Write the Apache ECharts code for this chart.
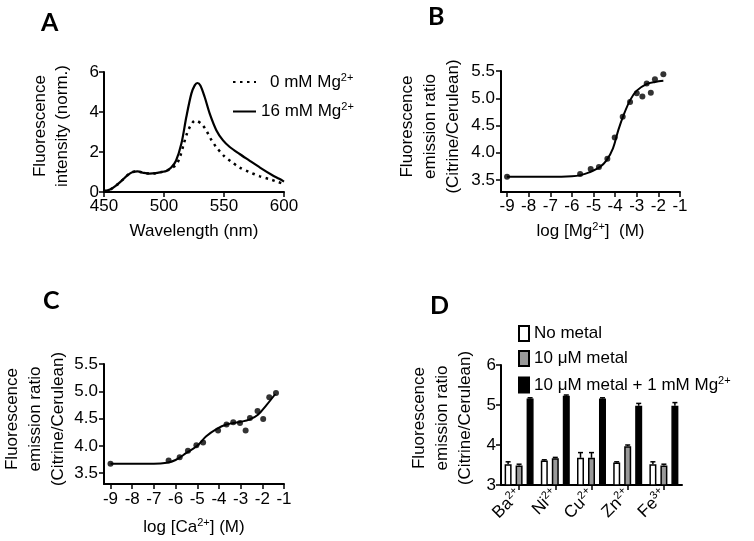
<!DOCTYPE html>
<html>
<head>
<meta charset="utf-8">
<script src="https://cdn.jsdelivr.net/npm/echarts@6/dist/echarts.min.js"></script>
<style>
  html, body { margin: 0; padding: 0; background: #fff; }
  #chart { width: 754px; height: 541px; }
</style>
</head>
<body>
<div id="chart"></div>
<script>
// A: emission spectra, [wavelength (nm), intensity (norm.)]
const spectrumNoMg = [
  [450, 0.03], [455, 0.12], [460, 0.32], [465, 0.58], [470, 0.86], [474, 1.0], [478, 1.03],
  [483, 0.96], [488, 0.92], [493, 0.94], [498, 1.0], [502, 1.05], [506, 1.2], [510, 1.35],
  [513, 1.7], [516, 2.3], [519, 2.9], [522, 3.3], [526, 3.58], [531, 3.42], [535, 3.1],
  [539.5, 2.6], [543.5, 2.25], [550, 1.8], [556, 1.52], [563, 1.22], [571, 1.0], [580, 0.78],
  [588, 0.64], [595, 0.5], [600, 0.4]
];
const spectrumMg = [
  [450, 0.03], [455, 0.12], [460, 0.32], [465, 0.58], [470, 0.86], [474, 1.0], [478, 1.03],
  [483, 0.96], [488, 0.92], [493, 0.94], [498, 1.0], [502, 1.05], [506, 1.22], [510, 1.56],
  [514.5, 2.42], [518.6, 3.75], [522.8, 4.92], [525.6, 5.33], [527.8, 5.45], [530.3, 5.33],
  [533.9, 4.75], [538.1, 3.92], [543.7, 3.08], [549.2, 2.58], [554.8, 2.25], [563, 1.9],
  [571.5, 1.56], [580, 1.22], [590, 0.85], [596, 0.66], [600, 0.52]
];

// B: Mg2+ titration
const mgLog = [-9, -5.62, -5.13, -4.75, -4.36, -4.02, -3.65, -3.31, -3.0, -2.74, -2.54, -2.35, -2.16, -1.77];
const mgRatio = [3.56, 3.61, 3.70, 3.74, 3.89, 4.28, 4.66, 4.93, 5.09, 5.03, 5.27, 5.10, 5.35, 5.44];
const mgFitLog = [-9, -7, -6, -5.6, -5.2, -4.7, -4.4, -4.1, -3.85, -3.6, -3.3, -3.0, -2.55, -2.15, -1.77];
const mgFitRatio = [3.56, 3.56, 3.57, 3.59, 3.64, 3.74, 3.86, 4.08, 4.42, 4.70, 4.97, 5.14, 5.26, 5.30, 5.32];

// C: Ca2+ titration
const caLog = [-9, -6.32, -5.81, -5.43, -5.04, -4.73, -4.04, -3.65, -3.34, -3.03, -2.77, -2.57, -2.22, -1.96, -1.68, -1.37];
const caRatio = [3.67, 3.73, 3.79, 3.91, 4.01, 4.06, 4.28, 4.39, 4.43, 4.42, 4.28, 4.51, 4.64, 4.49, 4.89, 4.97];
const caFitLog = [-9, -7, -6.4, -6.0, -5.5, -5.0, -4.6, -4.1, -3.65, -3.0, -2.6, -2.2, -1.8, -1.4];
const caFitRatio = [3.67, 3.67, 3.69, 3.74, 3.87, 4.00, 4.17, 4.31, 4.39, 4.44, 4.48, 4.57, 4.75, 4.95];

// D: other metals
const metals = ['Ba', 'Ni', 'Cu', 'Zn', 'Fe'];
const metalCharge = ['2+', '2+', '2+', '2+', '3+'];
const noMetal = [3.52, 3.61, 3.68, 3.56, 3.52];
const noMetalErr = [0.06, 0.02, 0.13, 0.02, 0.06];
const withMetal = [3.49, 3.67, 3.68, 3.97, 3.49];
const withMetalErr = [0.03, 0.02, 0.13, 0.03, 0.03];
const withMetalMg = [5.16, 5.23, 5.16, 4.98, 4.98];
const withMetalMgErr = [0.02, 0.02, 0.02, 0.06, 0.08];

const FONT = 'Liberation Sans, Arial, sans-serif';
const rich = {
  t: { fontFamily: FONT, fontSize: 17, color: '#000', lineHeight: 20 },
  sup: { fontFamily: FONT, fontSize: 11, color: '#000', lineHeight: 11, verticalAlign: 'top' }
};

function zip(xs, ys) {
  return xs.map((x, i) => [x, ys[i]]);
}

// prism-like axis look
function valueAxis(extra) {
  return Object.assign({
    type: 'value',
    splitLine: { show: false },
    axisLine: { show: true, onZero: false, lineStyle: { color: '#000', width: 2 } },
    axisTick: { show: true, length: 5, lineStyle: { color: '#000', width: 1.5 } },
    axisLabel: { color: '#000', fontFamily: FONT, fontSize: 17, margin: 6 },
    nameTextStyle: { color: '#000', fontFamily: FONT, fontSize: 17, lineHeight: 23, rich: rich }
  }, extra);
}

const ratioName = 'Fluorescence\nemission ratio\n(Citrine/Cerulean)';
const logTicks = [-9, -8, -7, -6, -5, -4, -3, -2, -1];
const ratioTicks = [3.5, 4.0, 4.5, 5.0, 5.5];

function errorBars(values, errs, offset) {
  return {
    type: 'custom',
    xAxisIndex: 3,
    yAxisIndex: 3,
    data: values.map((v, i) => [i, v, v + errs[i]]),
    renderItem(params, api) {
      const base = api.coord([api.value(0), api.value(1)]);
      const top = api.coord([api.value(0), api.value(2)]);
      const x = base[0] + offset;
      const st = { stroke: '#000', lineWidth: 1.5 };
      return {
        type: 'group',
        children: [
          { type: 'line', shape: { x1: x, y1: base[1], x2: x, y2: top[1] }, style: st },
          { type: 'line', shape: { x1: x - 2.5, y1: top[1], x2: x + 2.5, y2: top[1] }, style: st }
        ]
      };
    }
  };
}

const barStyle = (fill) => ({ color: fill, borderColor: '#000', borderWidth: 1.5 });

const option = {
  animation: false,
  backgroundColor: '#fff',
  textStyle: { fontFamily: FONT },
  grid: [
    { left: 104, top: 72, width: 180, height: 120 },
    { left: 501, top: 71, width: 179, height: 121 },
    { left: 104, top: 364, width: 180, height: 120 },
    { left: 501, top: 365, width: 181, height: 120 }
  ],
  xAxis: [
    valueAxis({
      gridIndex: 0, min: 450, max: 600, interval: 50,
      name: 'Wavelength (nm)', nameLocation: 'middle', nameGap: 28
    }),
    valueAxis({
      gridIndex: 1, min: -9.28, max: -1,
      axisTick: { show: true, length: 5, customValues: logTicks, lineStyle: { color: '#000', width: 1.5 } },
      axisLabel: { color: '#000', fontFamily: FONT, fontSize: 17, margin: 6, customValues: logTicks },
      name: '{t|log [Mg}{sup|2+}{t|]  (M)}', nameLocation: 'middle', nameGap: 29
    }),
    valueAxis({
      gridIndex: 2, min: -9.3, max: -1,
      axisTick: { show: true, length: 5, customValues: logTicks, lineStyle: { color: '#000', width: 1.5 } },
      axisLabel: { color: '#000', fontFamily: FONT, fontSize: 17, margin: 7, customValues: logTicks },
      name: '{t|log [Ca}{sup|2+}{t|] (M)}', nameLocation: 'middle', nameGap: 33
    }),
    {
      type: 'category', gridIndex: 3, data: metals,
      axisLine: { show: true, lineStyle: { color: '#000', width: 2 } },
      axisTick: { show: true, alignWithLabel: true, length: 5, lineStyle: { color: '#000', width: 1.5 } },
      axisLabel: {
        rotate: 45, margin: 7, interval: 0,
        formatter: (v, i) => '{t|' + v + '}{sup|' + metalCharge[i] + '}',
        rich: rich
      }
    }
  ],
  yAxis: [
    valueAxis({
      gridIndex: 0, min: 0, max: 6, interval: 2,
      axisLabel: { color: '#000', fontFamily: FONT, fontSize: 17, margin: 5 },
      name: 'Fluorescence\nintensity (norm.)', nameLocation: 'middle', nameGap: 31,
      nameTextStyle: { color: '#000', fontFamily: FONT, fontSize: 17, lineHeight: 22, padding: [0, 0, 0, 12] }
    }),
    valueAxis({
      gridIndex: 1, min: 3.28, max: 5.5,
      axisTick: { show: true, length: 5, customValues: ratioTicks, lineStyle: { color: '#000', width: 1.5 } },
      axisLabel: { color: '#000', fontFamily: FONT, fontSize: 17, margin: 6, customValues: ratioTicks, formatter: (v) => v.toFixed(1) },
      name: ratioName, nameLocation: 'middle', nameGap: 36,
      nameTextStyle: { color: '#000', fontFamily: FONT, fontSize: 17, lineHeight: 23, padding: [0, 0, 0, 10] }
    }),
    valueAxis({
      gridIndex: 2, min: 3.3, max: 5.5,
      axisTick: { show: true, length: 5, customValues: ratioTicks, lineStyle: { color: '#000', width: 1.5 } },
      axisLabel: { color: '#000', fontFamily: FONT, fontSize: 17, margin: 6, customValues: ratioTicks, formatter: (v) => v.toFixed(1) },
      name: ratioName, nameLocation: 'middle', nameGap: 34,
      nameTextStyle: { color: '#000', fontFamily: FONT, fontSize: 17, lineHeight: 23, padding: [0, 0, 0, 10] }
    }),
    valueAxis({
      gridIndex: 3, min: 3, max: 6, interval: 1,
      axisLabel: { color: '#000', fontFamily: FONT, fontSize: 17, margin: 5 },
      name: ratioName, nameLocation: 'middle', nameGap: 24,
      nameTextStyle: { color: '#000', fontFamily: FONT, fontSize: 17, lineHeight: 23, padding: [0, 0, 0, 14] }
    })
  ],
  legend: [
    {
      orient: 'vertical', left: 227, top: 67, itemWidth: 23, itemHeight: 10, itemGap: 11,
      itemStyle: { opacity: 0 },
      data: ['0 mM', '16 mM'],
      formatter: (n) => n === '0 mM'
        ? '{pad|}{t|0 mM Mg}{sup|2+}'
        : '{t|16 mM Mg}{sup|2+}',
      textStyle: { rich: Object.assign({ pad: { width: 9 } }, rich) }
    },
    {
      orient: 'vertical', left: 513, top: 320, itemWidth: 10, itemHeight: 15, itemGap: 8,
      icon: 'rect',
      data: ['none', 'metal', 'metalMg'],
      formatter: (n) => ({
        none: '{t|No metal}',
        metal: '{t|10 \u03bcM metal}',
        metalMg: '{t|10 \u03bcM metal + 1 mM Mg}{sup|2+}'
      })[n],
      textStyle: { rich: rich }
    }
  ],
  graphic: [
    { type: 'text', left: 41, top: 10, style: { text: 'A', font: 'bold 25px Lato, sans-serif', fill: '#000' } },
    { type: 'text', left: 428, top: 4, style: { text: 'B', font: 'bold 25px Lato, sans-serif', fill: '#000' } },
    { type: 'text', left: 43, top: 288, style: { text: 'C', font: 'bold 25px Lato, sans-serif', fill: '#000' } },
    { type: 'text', left: 430, top: 293, style: { text: 'D', font: 'bold 25px Lato, sans-serif', fill: '#000' } }
  ],
  series: [
    {
      name: '0 mM', type: 'line', xAxisIndex: 0, yAxisIndex: 0, data: spectrumNoMg,
      smooth: 0.3, symbol: 'none',
      lineStyle: { color: '#000', width: 2.5, type: [2.5, 4.5], cap: 'butt' },
      itemStyle: { color: '#000' }
    },
    {
      name: '16 mM', type: 'line', xAxisIndex: 0, yAxisIndex: 0, data: spectrumMg,
      smooth: 0.3, symbol: 'none',
      lineStyle: { color: '#000', width: 2.2 },
      itemStyle: { color: '#000' }
    },
    {
      type: 'line', xAxisIndex: 1, yAxisIndex: 1, data: zip(mgFitLog, mgFitRatio),
      smooth: 0.35, symbol: 'none', lineStyle: { color: '#000', width: 2 }
    },
    {
      type: 'scatter', xAxisIndex: 1, yAxisIndex: 1, data: zip(mgLog, mgRatio),
      symbolSize: 6, itemStyle: { color: '#000' }
    },
    {
      type: 'line', xAxisIndex: 2, yAxisIndex: 2, data: zip(caFitLog, caFitRatio),
      smooth: 0.35, symbol: 'none', lineStyle: { color: '#000', width: 2 }
    },
    {
      type: 'scatter', xAxisIndex: 2, yAxisIndex: 2, data: zip(caLog, caRatio),
      symbolSize: 6, itemStyle: { color: '#000' }
    },
    {
      name: 'none', type: 'bar', xAxisIndex: 3, yAxisIndex: 3, data: noMetal,
      barWidth: 7, barGap: '57%', itemStyle: barStyle('#fff')
    },
    {
      name: 'metal', type: 'bar', xAxisIndex: 3, yAxisIndex: 3, data: withMetal,
      barWidth: 7, barGap: '57%', itemStyle: barStyle('#999')
    },
    {
      name: 'metalMg', type: 'bar', xAxisIndex: 3, yAxisIndex: 3, data: withMetalMg,
      barWidth: 7, barGap: '57%', itemStyle: barStyle('#000')
    },
    errorBars(noMetal, noMetalErr, -11),
    errorBars(withMetal, withMetalErr, 0),
    errorBars(withMetalMg, withMetalMgErr, 11)
  ]
};

const chart = echarts.init(document.getElementById('chart'));
chart.setOption(option);
</script>
</body>
</html>
